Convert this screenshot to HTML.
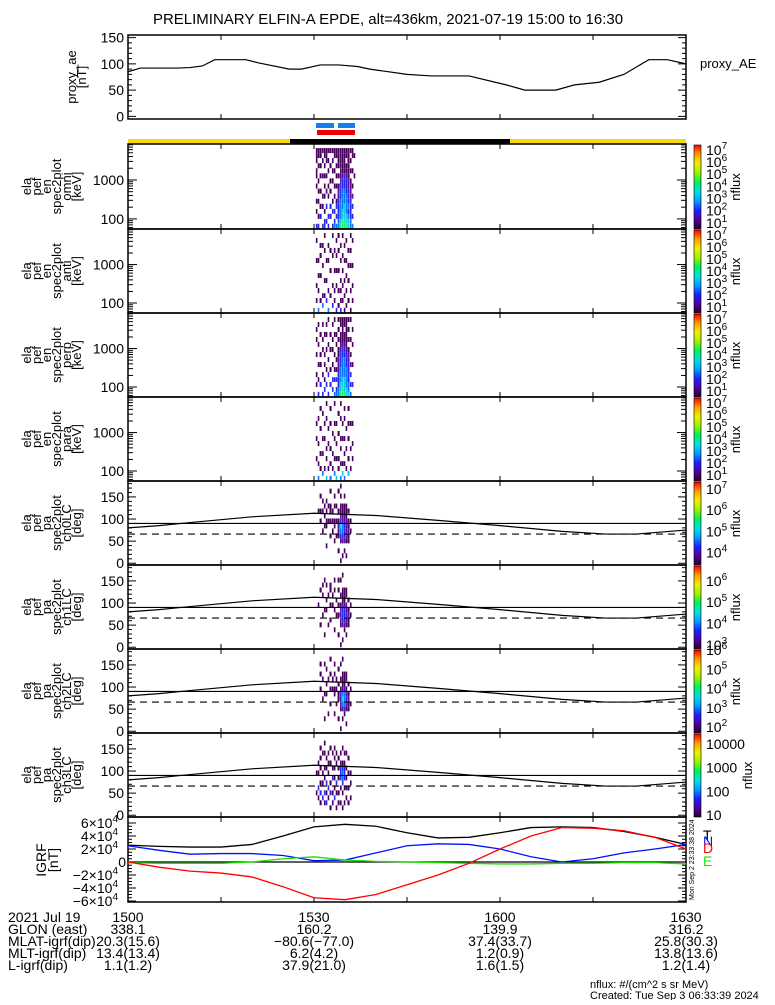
<!DOCTYPE html>
<html><head><meta charset="utf-8"><style>
body{margin:0;background:#fff}
svg text{font-family:"Liberation Sans",sans-serif;fill:#000}
</style></head><body>
<svg id="s" width="775" height="1000" xmlns="http://www.w3.org/2000/svg">
<rect width="775" height="1000" fill="#fff"/>
<text x="388" y="24" font-size="15" text-anchor="middle">PRELIMINARY ELFIN-A EPDE, alt=436km, 2021-07-19 15:00 to 16:30</text>
<g id="g"></g>
</svg>
<script>
// ---- data ----
const aeMin=[0,2,8,10,12,14,19,21,26,28,31,34,37,39,45,49,55,61,64,69,72,76,80,84,87,90];
const aeVal=[85,92,92,93,96,108,108,102,90,90,98,98,95,90,80,77,77,60,50,50,60,65,80,108,108,100];
const paMin=[0,5,10,20,30,40,50,60,70,77,82,90];
const paVal=[80,85,92,105,113,108,97,85,72,66,66,75];
const igrfMin=[0,5,10,15,20,25,30,35,40,45,50,55,60,65,70,75,80,85,90];
const igrfT=[26,24,23,23,27,40,54,58,55,45,37,38,45,53,54,53,47,38,27];
const igrfN=[25,18,12,13,13,10,2,3,14,25,28,27,20,8,0,5,14,20,27];
const igrfE=[-1,-2,-2,-2,0,5,8,3,1,0,-1,-2,-3,-3,-2,-2,-1,-1,-3];
const igrfD=[0,-8,-14,-17,-23,-38,-55,-58,-50,-35,-20,-2,20,40,53,52,48,38,20];
const colTimes=[30.3,30.6,30.9,31.3,31.6,31.9,32.2,32.5,32.9,33.2,33.5,33.8,34.2,34.5,34.8,35.1,35.4,35.8,36.1,36.4];
const enEdges=[55,75,100,135,180,245,330,445,600,810,1100,1480,2000,2700,3650,4900,6600];
const paEdges=[0,11.25,22.5,33.75,45,56.25,67.5,78.75,90,101.25,112.5,123.75,135,146.25,157.5,168.75,180];
const specOmni=["3..1.1..1.11.111","3.1..1.1.1..1.11","..3.1..1..1.1.11","3...1.1...1..1.1","33.1..1.1.1.1.11",".3..3..1..1..111","3.3...1.1..1.1.1","..3.3..1.1..1..1","3..3.1...1.1.1.1","43.3..1.1..1..11","4.3.31..1.1.1.11","443333221.1.1111","6544443332111111","6655444433211111","6655544433311111","6554444333211.11","5543433322111111","4433332221.1.1.1","4.3.3.2.1..1..11","..........1...1."];
const specAnti=["..1..1....1...1.","4...1..1..1.....","..1....1...1.1..",".4.1.....1...1..","...1..1.....1..1","..3...1...1.....","4...1.....1..1..","...1....1...1...",".3...1.....1...1","..1.1...1...1...","3....1..1..1..1.",".1..1...1...1..1","3.1.1.1...1..1..","..1..1..1..1...1","1..1..1...1..1..",".1..1..1..1...1.","..1...1..1..1...","1...1....1..1..1","..1..1...1....1.","................"];
const specPerp=["..1.1...1..1.1..","3..1..1...1...1.","..3...1.1...1...","3...1....1.1..1.",".3.1..1.1...1...","..3..1...1..1.1.","3...3..1..1....1","..3..1...1..1...",".3.3..1..1.1..1.","4..3.1..1...1..1","43.3.1.1..1.1...","4433322211.1.1.1","6554443332111.11","6655444433211111","6555444433211.11","5544443332111111","5443333221.1.1.1","4.3.3.2.1..1...1","..3...1...1..1..","................"];
const specPara=["....1...1..1....","4..1...1....1...","..1..1....1...1.",".4...1..1....1..","..1.....1..1....","5...1.1.....1..1","..1....1..1.....","4..1..1....1..1.","..1..1...1......",".4..1...1..1...1","5...1..1...1....","..1.1....1...1..","4..1..1.1...1..1",".5.1....1..1....","4..1.1..1...1.1.","..1...1...1.....",".5..1...1..1..1.","..1...1....1....","....1..1...1....","................"];
const pa0=["................","..........1.....","........1.1..1..","......1...1.1...",".......1.1.1....","...1...11.1.1...","........1..1....",".....1..1.11..1.","......1.1.1.....","....1..11..1.1..",".....1..1..1....","..1..1221.1...1.","1...13453211.1.1",".1..23442211....","..1.23332211.1..",".1..12222111....","....11211.1.....","......1.1.......","................","................"];
const pa1=["................","........1.......","....1......1....","......1...1.1...","..1....1.....1..",".......1.1..1...","....1.....1.....",".....1..1..11...","........1.1.....","...1...1...1.1..","......1..1......","..1...1.1..1.1..","1...12221.1..1..",".1..23332111..1.","...123332111....","..1.12322.11....","....1121.1......","......1.1.......","................","................"];
const pa2=["................","................","........1..1.1..","......1...1.....","..1....1.....1..",".......1.1..1...","...1......1.....",".....1..1..1..1.","........1.1.....","...1...11..1.1..",".....1..1.1.....","..1...11.1..1...","1...12231.1..1..","..1.24542111..1.","...134442111....",".1..12321.11....","....1121.1......",".....1..1.......","................","................"];
const pa3=["....1...1.......","...1.3..1.1.....","..1.3.1..1.1.1..","...3..1.1...1...","..1.3..1.1..1.1.","..3.1.3..1.1....","...1.3..1.1.1...",".1..3.1...1..1..","..1.1..3.1..1...","...3.1.1.1.1.1..",".1..1.3...1.1...","..1.1..1.1.1....","..1..1.3331.1...",".1..1.34431..1..","..1..1.3331.1...","...1.1.1.1..1...","..1..1..1..1....","...1..1.1.......","................","................"];
// ---- helpers ----
const NS="http://www.w3.org/2000/svg", G=document.getElementById('g');
const X0=128,X1=686;
const xs=m=>X0+(X1-X0)*m/90;
function el(t,a,p){const e=document.createElementNS(NS,t);for(const k in a)e.setAttribute(k,a[k]);(p||G).appendChild(e);return e;}
const pal=['#2a0038','#45005a','#5a10a0','#2828f0','#0a78ff','#10c8e8','#20f080','#c8f000','#ffa000','#ff1000'];
function line(x1,y1,x2,y2,c,w,d){const e=el('line',{x1,y1,x2,y2,stroke:c||'#000','stroke-width':w||1});if(d)e.setAttribute('stroke-dasharray',d);return e;}
function txt(x,y,s,sz,anc,col){const e=el('text',{x,y,'font-size':sz||13,'text-anchor':anc||'end'});e.textContent=s;if(col)e.setAttribute('style','fill:'+col);return e;}
function frame(y0,y1,name){const r=el('rect',{x:X0,y:y0,width:X1-X0,height:y1-y0,fill:'none',stroke:'#000','stroke-width':1.5});
 
 for(let m=15;m<90;m+=15){line(xs(m),y0,xs(m),y0+5);line(xs(m),y1,xs(m),y1-5);}}
function ylab(lines,yc,x0,dx,sz){lines.forEach((s,i)=>{const x=x0+i*dx;const t=el('text',{x:0,y:0,'font-size':sz||13,'text-anchor':'middle',transform:`translate(${x},${yc}) rotate(-90)`});t.textContent=s;});}
function linTicks(y0,y1,lo,hi,minor,major,labels){const ys=v=>y1-(v-lo)/(hi-lo)*(y1-y0);
 for(let v=Math.ceil(lo/minor)*minor;v<=hi;v+=minor){const M=Math.abs(v/major-Math.round(v/major))<1e-6;const L=M?8:4;const y=ys(v);if(y<y0+0.5||y>y1-0.5)continue;line(X0,y,X0+L,y);line(X1,y,X1-L,y);}
 labels.forEach(l=>{const t=txt(X0-4,ys(l[0])+5,l[1],14);});return ys;}
function logTicks(y0,y1,lo,hi,labels){const ys=v=>y1-(Math.log10(v)-Math.log10(lo))/(Math.log10(hi)-Math.log10(lo))*(y1-y0);
 for(let d=10;d<=10000;d*=10)for(let k=1;k<10;k++){const v=d*k;if(v<lo||v>hi)continue;const L=k==1?9:5;const y=ys(v);line(X0,y,X0+L,y);line(X1,y,X1-L,y);}
 labels.forEach(l=>{const t=txt(X0-4,ys(l)+5,String(l),14);});return ys;}
function poly(mins,vals,xf,yf,col,w,dash,name){const p=el('polyline',{points:mins.map((m,i)=>xf(m)+','+yf(vals[i])).join(' '),fill:'none',stroke:col,'stroke-width':w||1.2});if(dash)p.setAttribute('stroke-dasharray',dash);}
function spec(cols,edges,ys,name){const g=el('g',{});
 cols.forEach((s,i)=>{const xa=xs(colTimes[i]),xb=i+1<colTimes.length?xs(colTimes[i+1]):xa+2;
  for(let j=0;j<s.length;j++){const c=s[j];if(c=='.')continue;const ya=ys(edges[j+1]),yb=ys(edges[j]);
   const r=el('rect',{x:xa,y:ya,width:Math.max(1.6,xb-xa-0.4),height:yb-ya,fill:pal[+c]},g);
   }});}
function cbar(y0,y1,lo,hi,labs,name){const id='cg'+y0;const d=el('linearGradient',{id,x1:0,y1:1,x2:0,y2:0});
 ['#200028','#5000a0','#2020ff','#00a0ff','#00e0e0','#00f060','#a0f000','#f0f000','#ffa000','#ff0000'].forEach((c,i)=>el('stop',{offset:i/9,'stop-color':c},d));
 const r=el('rect',{x:694,y:y0,width:7,height:y1-y0,fill:`url(#${id})`,stroke:'#000','stroke-width':0.6});
 const yc=e=>y1-(e-lo)/(hi-lo)*(y1-y0);
 labs.forEach(e=>{const y=yc(e)+5;if(typeof e==='number'&&labs.plain){txt(706,y,String(Math.pow(10,e)),14,'start');}else{const t=el('text',{x:706,y,'font-size':14});t.textContent='10';const sp=el('tspan',{dy:-6,'font-size':10},t);sp.textContent=String(e);}});
 const t=el('text',{x:0,y:0,'font-size':13,'text-anchor':'middle',transform:`translate(${labs.plain?752:740},${(y0+y1)/2}) rotate(-90)`});t.textContent='nflux';}
// ---- proxy AE ----
frame(35,119,'proxy-ae-panel');
const aeY=linTicks(35,119,-5,155,10,50,[[0,'0'],[50,'50'],[100,'100'],[150,'150']]);
poly(aeMin,aeVal,xs,aeY,'#000',1.2,null,'proxy-ae-line');
ylab(['proxy_ae','[nT]'],77,76,10,13);
txt(700,68,'proxy_AE',13,'start');
// bars
[[316,334,123,'#1080f0'],[338,355,123,'#1080f0'],[317,355,130,'#f00000'],[128,290,139,'#f8d810'],[290,510,139,'#000'],[510,686,139,'#f8d810']].forEach(b=>{const r=el('rect',{x:b[0],y:b[2],width:b[1]-b[0],height:5,fill:b[3]});});
// ---- energy spectrograms ----
const enP=[[144,229,specOmni,'omni'],[229,313,specAnti,'anti'],[313,397,specPerp,'perp'],[397,481,specPara,'para']];
enP.forEach(p=>{const ys=logTicks(p[0],p[1],55,8400,[100,1000]);spec(p[2],enEdges,ys,'spectrogram-'+p[3]);frame(p[0],p[1],'energy-panel-'+p[3]);
 ylab(['ela','pef','en','spec2plot',p[3],'[keV]'],(p[0]+p[1])/2,31,10,13);cbar(p[0]+1,p[1],0.5,7.4,[1,2,3,4,5,6,7],'colorbar-'+p[3]);});
// ---- pitch angle panels ----
const paP=[[481,565,pa0,'ch0LC',3.42,7.33,[4,5,6,7]],[565,649,pa1,'ch1LC',2.82,6.69,[3,4,5,6]],[649,733,pa2,'ch2LC',1.7,6.0,[2,3,4,5,6]],[733,817,pa3,'ch3LC',0.92,4.42,[1,2,3,4]]];
paP.forEach((p,k)=>{const ys=linTicks(p[0],p[1],-4,186,10,50,[[0,'0'],[50,'50'],[100,'100'],[150,'150']]);
 spec(p[2],paEdges,ys,'pitch-angle-spectrogram-'+p[3]);
 line(X0,ys(90),X1,ys(90),'#000',1.2);
 const dl=line(X0,ys(66),X1,ys(66),'#000',1.2,'7,5');
 poly(paMin,paVal,xs,ys,'#000',1.2,null,'anti-loss-cone-curve');
 frame(p[0],p[1],'pitch-angle-panel-'+p[3]);
 ylab(['ela','pef','pa','spec2plot',p[3],'[deg]'],(p[0]+p[1])/2,31,10,13);
 const l=p[6];if(k==3)l.plain=true;cbar(p[0]+1,p[1],p[4],p[5],l,'colorbar-'+p[3]);});
// ---- IGRF ----
frame(817,902,'igrf-panel');
const igY=v=>862-v*0.65;
for(let v=-60;v<=60;v+=5){const y=igY(v);if(y<818||y>901)continue;const L=v%20==0?8:4;line(X0,y,X0+L,y);line(X1,y,X1-L,y);}
[[60,'6×10'],[40,'4×10'],[20,'2×10'],[-20,'−2×10'],[-40,'−4×10'],[-60,'−6×10']].forEach(l=>{const t=el('text',{x:118,y:igY(l[0])+5,'font-size':14,'text-anchor':'end'});t.textContent=l[1];const s=el('tspan',{dy:-6,'font-size':10},t);s.textContent='4';});
txt(126,867,'0',14);
line(X0,igY(0),X1,igY(0),'#000',1.2);
const sc=v=>igY(v);
poly(igrfMin,igrfT,xs,sc,'#000',1.3,null,'igrf-total');
poly(igrfMin,igrfN,xs,sc,'#0010ff',1.3,null,'igrf-north');
poly(igrfMin,igrfE,xs,sc,'#20e000',1.3,null,'igrf-east');
poly(igrfMin,igrfD,xs,sc,'#ff0000',1.3,null,'igrf-down');
ylab(['IGRF','[nT]'],860,46,12,14);
[['T',840,'#000'],['N',846,'#0010ff'],['D',853,'#ff0000'],['E',866,'#20e000']].forEach(l=>{const t=txt(703,l[1],l[0],14,'start',l[2]);});
const ts=el('text',{x:0,y:0,'font-size':7,transform:'translate(694,900) rotate(-90)'});ts.textContent='Mon Sep  2 23:33:38 2024';
// ---- bottom annotation ----
const rows=[['2021 Jul 19','1500','1530','1600','1630'],['GLON (east)','338.1','160.2','139.9','316.2'],['MLAT-igrf(dip)','20.3(15.6)','−80.6(−77.0)','37.4(33.7)','25.8(30.3)'],['MLT-igrf(dip)','13.4(13.4)','6.2(4.2)','1.2(0.9)','13.8(13.6)'],['L-igrf(dip)','1.1(1.2)','37.9(21.0)','1.6(1.5)','1.2(1.4)']];
rows.forEach((r,i)=>{const y=922+i*12;txt(8,y,r[0],14,'start');[0,30,60,90].forEach((m,k)=>{const t=txt(xs(m),y,r[k+1],14,'middle');});});
txt(590,988,'nflux: #/(cm^2 s sr MeV)',11,'start');
txt(590,999,'Created: Tue Sep  3 06:33:39 2024',11,'start');
</script>
</body></html>
